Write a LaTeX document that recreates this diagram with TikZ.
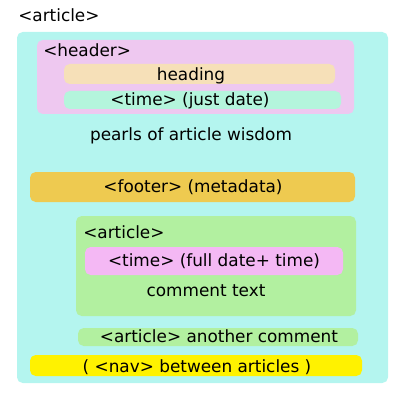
\documentclass[tikz,border=0pt]{standalone}
\usepackage{fontspec}
\setmainfont{DejaVu Sans}
\usetikzlibrary{positioning}
\definecolor{outercyan}{HTML}{B4F5EF}
\definecolor{headerpink}{HTML}{EEC8F0}
\definecolor{headingtan}{HTML}{F6E0B8}
\definecolor{timemint}{HTML}{B4F5DC}
\definecolor{footergold}{HTML}{EECA50}
\definecolor{commentgreen}{HTML}{B2F0A0}
\definecolor{timepink}{HTML}{F4B8F4}
\definecolor{navyellow}{HTML}{FFF200}

\begin{document}
\begin{tikzpicture}[x=0.025cm, y=-0.025cm,
    box/.style={rounded corners=4pt},
    lbl/.style={inner sep=0pt, text height=0.75em, text depth=0.2em,
        font=\fontsize{12}{14}\selectfont}]
    \useasboundingbox (0,0) rectangle (400,400);

    % Aeussere article
    \node[lbl, anchor=west] (art) at (18,18) {<article>};
    \fill[box, outercyan] (17,32) rectangle (388,383);

    % header
    \fill[box, headerpink] (37,40) rectangle (354,114);
    \node[lbl, anchor=west] (hdr) at (43,53) {<header>};
    \fill[box, headingtan] (64,64) rectangle (335,84);
    \node[lbl] (heading) at (191,77) {heading};
    \fill[box, timemint] (64,91) rectangle (341,109);
    \node[lbl] (jdate) at (190,102) {<time> (just date)};

    \node[lbl] (pearls) at (191,137) {pearls of article wisdom};

    % footer
    \fill[box, footergold] (30,172) rectangle (355,202);
    \node[lbl] (ftr) at (193,189) {<footer> (metadata)};

    % Kommentar
    \fill[box, commentgreen] (76,216) rectangle (356,316);
    \node[lbl, anchor=west] (cart) at (83,235) {<article>};
    \fill[box, timepink] (85,247) rectangle (343,275);
    \node[lbl] (fdate) at (214,263) {<time> (full date+ time)};
    \node[lbl] (ctext) at (206,293) {comment text};

    \fill[box, commentgreen] (78,328) rectangle (358,346);
    \node[lbl] (another) at (219,339) {<article> another comment};

    % nav
    \fill[box, navyellow] (30,355) rectangle (362,376);
    \node[lbl] (nav) at (197,369) {( <nav> between articles )};
\end{tikzpicture}
\end{document}
